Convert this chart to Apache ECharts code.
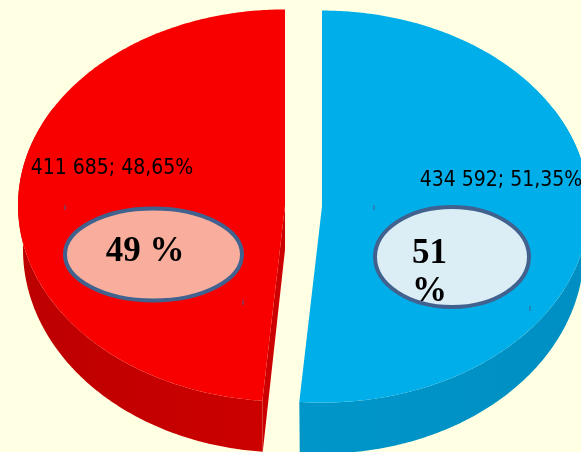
<!DOCTYPE html>
<html>
<head>
<meta charset="utf-8">
<script src="https://cdn.jsdelivr.net/npm/echarts@6/dist/echarts.min.js"></script>
<style>
  html, body { margin: 0; padding: 0; background: #FFFFE3; }
  #chart { width: 581px; height: 452px; }
</style>
</head>
<body>
<div id="chart"></div>
<script>
// data
const categories = ['Group 1', 'Group 2'];
const values = [434592, 411685];
const boxLabels = ['51 %', '49 %'];

// colours per slice (top face / side face)
const topColors = ['#00AEEA', '#F80000'];
const sideColors = [['#0096CA', '#008FC2'], ['#BC0000', '#CC0000']];

// geometry of the 3d pie: top ellipse, and a slightly rounder bottom ellipse (perspective)
const CX = 303.5, CY = 206, RX = 267, RY = 196;
const CYB = 250, RXB = 262, RYB = 203;
const EXPLODE = 18.5;
const total = values.reduce((a, b) => a + b, 0);

// text label positions per slice (center of text)
const labelPos = [[501, 181], [112, 168.5]];

function fmtNum(v) {
  return String(v).replace(/\B(?=(\d{3})+(?!\d))/g, ' ');
}

// point on top (bottom=false) or bottom ellipse, angle clockwise from 12 o'clock
function pt(cx, oy, a, bottom) {
  if (bottom) return [cx + RXB * Math.sin(a), CYB + oy - RYB * Math.cos(a)];
  return [cx + RX * Math.sin(a), CY + oy - RY * Math.cos(a)];
}

function arcPoints(cx, oy, a0, a1, bottom) {
  const pts = [];
  const n = Math.max(2, Math.ceil(Math.abs(a1 - a0) / 0.01));
  for (let k = 0; k <= n; k++) {
    pts.push(pt(cx, oy, a0 + (a1 - a0) * k / n, bottom));
  }
  return pts;
}

function renderItem(params, api) {
  const i = params.dataIndex;
  const v = api.value(0);
  let start = 0;
  for (let k = 0; k < i; k++) start += values[k] / total * Math.PI * 2;
  const sweep = v / total * Math.PI * 2;
  const end = start + sweep;
  const mid = start + sweep / 2;
  const cx = CX + EXPLODE * Math.sin(mid);
  const oy = -EXPLODE * Math.cos(mid) * RY / RX;
  const children = [];

  // cut faces that face the viewer
  [[start, start - Math.PI / 2], [end, end + Math.PI / 2]].forEach(function (f) {
    if (Math.cos(f[1]) < -0.01) {
      children.push({
        type: 'polygon',
        shape: { points: [[cx, CY + oy], pt(cx, oy, f[0]), pt(cx, oy, f[0], true), [cx, CYB + oy]] },
        style: { fill: sideColors[i][1] }
      });
    }
  });

  // outer side (front part; the top face covers the rest)
  const s0 = Math.max(start, Math.PI / 3), s1 = Math.min(end, Math.PI * 5 / 3);
  if (s1 > s0) {
    const topArc = arcPoints(cx, oy, s0, s1, false);
    const botArc = arcPoints(cx, oy, s0, s1, true).reverse();
    children.push({
      type: 'polygon',
      shape: { points: topArc.concat(botArc) },
      style: {
        fill: new echarts.graphic.LinearGradient(0, 0, 1, 0, [
          { offset: 0, color: sideColors[i][0] },
          { offset: 1, color: sideColors[i][1] }
        ])
      }
    });
  }

  // top face
  children.push({
    type: 'polygon',
    shape: { points: [[cx, CY + oy]].concat(arcPoints(cx, oy, start, end, false)) },
    style: { fill: topColors[i] }
  });

  // value label
  const pct = (v / total * 100).toFixed(2).replace('.', ',');
  children.push({
    type: 'text',
    x: labelPos[i][0],
    y: labelPos[i][1],
    style: {
      text: fmtNum(v) + '; ' + pct + '%',
      fill: '#000',
      font: '21px "Liberation Sans Narrow", "DejaVu Sans Condensed", sans-serif',
      align: 'center',
      verticalAlign: 'middle'
    }
  });

  return { type: 'group', children: children };
}

const chart = echarts.init(document.getElementById('chart'));

const boxStyle = { stroke: '#41618E', lineWidth: 4 };
const boxFont = 'bold 35px "Liberation Serif", "Times New Roman", serif';

const option = {
  backgroundColor: '#FFFFE3',
  animation: false,
  series: [{
    type: 'custom',
    coordinateSystem: 'none',
    renderItem: renderItem,
    data: values.map((v, i) => ({ name: categories[i], value: [v] }))
  }],
  graphic: [
    { type: 'ellipse', shape: { cx: 153.5, cy: 254.5, rx: 88.5, ry: 46 },
      style: Object.assign({ fill: '#F9AE9D' }, boxStyle), z: 10 },
    { type: 'text', x: 145, y: 252,
      style: { text: boxLabels[1], font: boxFont, fill: '#000', align: 'center', verticalAlign: 'middle' }, z: 11 },
    { type: 'ellipse', shape: { cx: 452, cy: 257, rx: 77, ry: 50 },
      style: Object.assign({ fill: '#DCEEF5' }, boxStyle), z: 10 },
    { type: 'text', x: 412, y: 273,
      style: { text: boxLabels[0], font: boxFont, fill: '#000', align: 'left', verticalAlign: 'middle',
               width: 45, overflow: 'break', lineHeight: 38 }, z: 11 },
    // little corner marks of the text boxes
    { type: 'line', shape: { x1: 65, y1: 205, x2: 65, y2: 210 }, style: { stroke: '#41618E', lineWidth: 1 }, z: 9 },
    { type: 'line', shape: { x1: 243, y1: 300, x2: 243, y2: 305 }, style: { stroke: '#41618E', lineWidth: 1 }, z: 9 },
    { type: 'line', shape: { x1: 374, y1: 205, x2: 374, y2: 210 }, style: { stroke: '#41618E', lineWidth: 1 }, z: 9 },
    { type: 'line', shape: { x1: 530, y1: 306, x2: 530, y2: 311 }, style: { stroke: '#41618E', lineWidth: 1 }, z: 9 }
  ]
};

chart.setOption(option);
window.addEventListener('resize', () => chart.resize());
</script>
</body>
</html>
